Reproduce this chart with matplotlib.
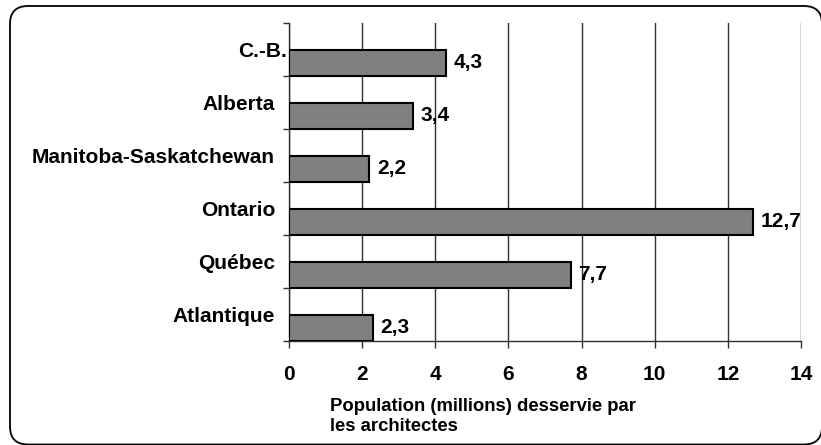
import matplotlib
matplotlib.use("Agg")
import matplotlib.pyplot as plt
from matplotlib.patches import FancyBboxPatch
from matplotlib.transforms import IdentityTransform, ScaledTranslation

categories = ["Atlantique", "Québec", "Ontario", "Manitoba-Saskatchewan", "Alberta", "C.-B."]
values = [2.3, 7.7, 12.7, 2.2, 3.4, 4.3]
value_labels = ["2,3", "7,7", "12,7", "2,2", "3,4", "4,3"]
xticks = [0, 2, 4, 6, 8, 10, 12, 14]
xlabel = "Population (millions) desservie par\nles architectes"

plt.rcParams['font.family'] = ['Liberation Sans', 'DejaVu Sans']
plt.rcParams['font.weight'] = 'bold'

W, H = 821, 445
fig = plt.figure(figsize=(W / 100, H / 100), dpi=100)
fig.patch.set_facecolor('white')

ax = fig.add_axes([289 / W, 1 - 341 / H, (801 - 289) / W, (341 - 23) / H])

ypos = list(range(len(categories)))
ax.barh([y - 0.5 for y in ypos], values, height=0.5, align='edge',
        color='#808080', edgecolor='black', linewidth=1.5, zorder=3)

for y, v, lab in zip(ypos, values, value_labels):
    ax.text(v + 0.2, y - 0.25, lab, ha='left', va='center',
            fontsize=15, fontweight='bold', color='black', zorder=4)

ax.set_xlim(0, 14)
ax.set_ylim(-0.5, len(categories) - 0.5)
ax.set_xticks(xticks)
ax.set_xticklabels([str(t) for t in xticks], fontsize=15, fontweight='bold')
ax.set_yticks(ypos)
ax.set_yticklabels(categories, fontsize=15, fontweight='bold')
ax.set_yticks([y - 0.5 for y in ypos] + [len(categories) - 0.5], minor=True)

ax.tick_params(axis='y', which='major', length=0, pad=10)
ax.tick_params(axis='y', which='minor', length=4.5, width=1, color='#303030', direction='out')
ax.tick_params(axis='x', which='major', length=5, width=1, color='#303030', pad=12)

# shift C.-B. label slightly right as in the reference
lbl = ax.get_yticklabels()[-1]
lbl.set_transform(lbl.get_transform() + ScaledTranslation(12 / 100, 0, fig.dpi_scale_trans))

ax.grid(axis='x', color='#303030', linewidth=1, zorder=0)
ax.set_axisbelow(True)
for s in ['top', 'right']:
    ax.spines[s].set_visible(False)
for s in ['left', 'bottom']:
    ax.spines[s].set_color('#303030')
    ax.spines[s].set_linewidth(1)

fig.text(330 / W, 1 - 398 / H, xlabel, ha='left', va='top', fontsize=13.3,
         fontweight='bold', linespacing=1.2)

border = FancyBboxPatch((10, 0.5), 812, 438.5, boxstyle="round,pad=0,rounding_size=18",
                        transform=IdentityTransform(), facecolor='none',
                        edgecolor='black', linewidth=1.3)
fig.patches.append(border)

fig.savefig("out.png", dpi=100)
